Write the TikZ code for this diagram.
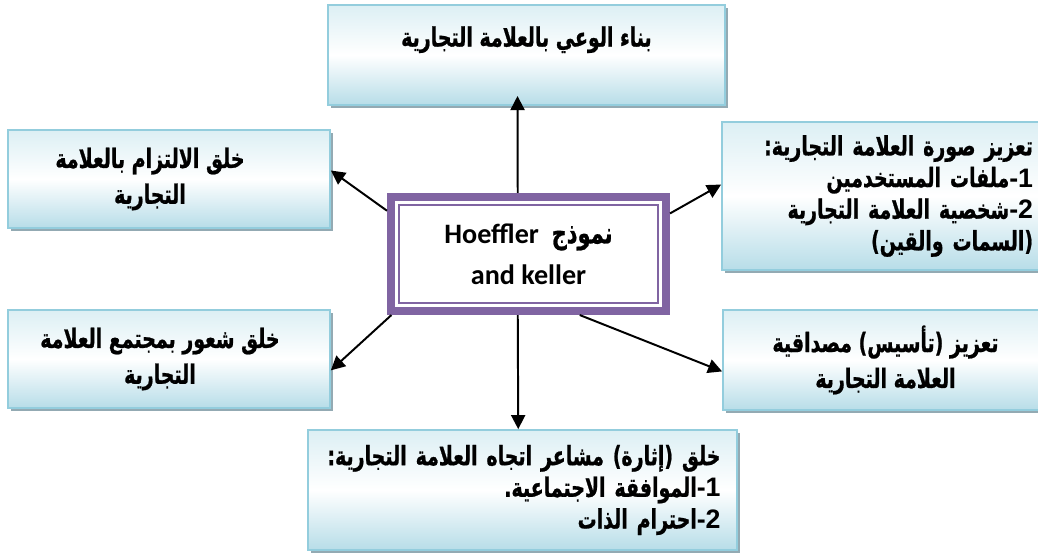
\documentclass[tikz,border=0pt]{standalone}
\usepackage{fontspec}
\usetikzlibrary{arrows.meta,shadows}
\TeXXeTstate=1
\newfontfamily\arabicfont[Script=Arabic, FakeStretch=0.71, FakeBold=0.8]{DejaVu Sans}
\newfontfamily\latinfont{Carlito}
\newfontfamily\numfont{Liberation Sans}
\newcommand{\ar}[1]{{\arabicfont\beginR #1\endR}}
\newcommand{\num}[1]{{\numfont\bfseries #1}}

\definecolor{framepurple}{HTML}{8064A2}
\definecolor{cardline}{HTML}{93CDDD}
\definecolor{cardtop}{HTML}{DCEFF4}
\definecolor{cardbottom}{HTML}{B7DDE8}
\definecolor{cardshadow}{HTML}{93AAB3}

\tikzset{
	card/.style={draw=cardline, line width=1.2pt, top color=cardtop, bottom color=cardbottom, middle color=white,
		drop shadow={shadow xshift=2.2pt, shadow yshift=-2.2pt, fill=cardshadow, opacity=1},
		inner sep=0pt, font=\arabicfont\bfseries\fontsize{19}{22.5}\selectfont},
	wide/.style={font=\arabicfont\bfseries\fontsize{19}{25.5}\selectfont},
	model/.style={draw=framepurple, line width=5.7pt, fill=white, inner sep=0pt, align=center,
		minimum width=6.875cm, minimum height=2.85cm, font=\latinfont\bfseries\fontsize{20}{29}\selectfont},
	link/.style={-{Triangle[length=10pt,width=10pt]}, line width=1.4pt},
}

\begin{document}
\begin{tikzpicture}[x=0.025cm, y=-0.025cm]
	\useasboundingbox (0,0) rectangle (1038,556);

	\node[card, minimum width=9.925cm, minimum height=2.5cm, text height=14pt, text depth=26pt] (t) at (526.5,55) {\ar{بناء الوعي بالعلامة التجارية}};
	\node[card, wide, minimum width=8.05cm, minimum height=2.45cm, align=center] (lt) at (169,179) {\ar{خلق الالتزام بالعلامة}\hspace*{0.95cm}\\\ar{التجارية}\hspace*{0.95cm}};
	\node[card, minimum width=8.15cm, minimum height=3.7cm, text width=7.4cm, align=right] (rt) at (885,196) {\ar{تعزيز صورة العلامة التجارية:}\\\ar{\num{-1}ملفات المستخدمين}\\\ar{\num{-2}شخصية العلامة التجارية}\\\ar{(السمات والقين)}};
	\node[card, wide, minimum width=8.05cm, minimum height=2.45cm, align=center] (lb) at (169,359) {\ar{خلق شعور بمجتمع العلامة}\hspace*{0.45cm}\\\ar{التجارية}\hspace*{0.45cm}};
	\node[card, wide, minimum width=8.125cm, minimum height=2.5cm, align=center] (rb) at (885.5,360) {\ar{تعزيز (تأسيس) مصداقية}\\\ar{العلامة التجارية}};
	\node[card, minimum width=10.725cm, minimum height=3cm, text width=9.9cm, align=right] (b) at (522.5,490) {\ar{خلق (إثارة) مشاعر اتجاه العلامة التجارية:}\\\ar{\num{-1}الموافقة الاجتماعية.}\\\ar{\num{-2}احترام الذات}};

	% the model in the middle, thick frame with a thin line inside
	\node[model] (c) at (528.5,254) {Hoeffler\ \ {\arabicfont\fontsize{21}{29}\selectfont نموذج}\\and keller};
	\draw[framepurple, line width=1.1pt] ([shift={(8.5pt,-8.5pt)}]c.north west) rectangle ([shift={(-8.5pt,8.5pt)}]c.south east);

	\foreach \from/\to/\ext in {c.100/t.260/-7pt, c.260/b.94/0pt, c.163/lt.3/0pt, c.16/rt.176/0pt, c.204/lb.356/0pt, c.310/rb.184/0pt}
		\draw[link, shorten >=\ext] (\from) -- (\to);
\end{tikzpicture}
\end{document}
